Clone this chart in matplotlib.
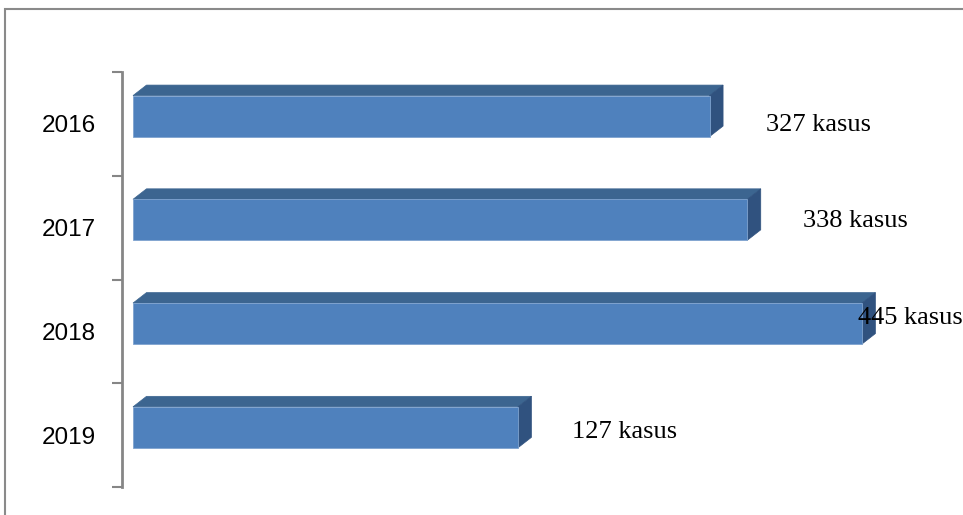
import matplotlib
matplotlib.use("Agg")
import matplotlib.pyplot as plt
from matplotlib.patches import Polygon, Rectangle

# ---- data ----
years = ["2016", "2017", "2018", "2019"]
bar_values = [352, 375, 445, 235]          # bar lengths as drawn in the picture
value_labels = ["327 kasus", "338 kasus", "445 kasus", "127 kasus"]

# ---- layout (style, not data) ----
W, H = 963, 515
fig = plt.figure(figsize=(W / 100, H / 100), dpi=100)
ax = fig.add_axes([122 / W, 1 - 487 / H, (W - 122) / W, 415 / H])

px_per_unit = 1.638
x_left = -11 / px_per_unit
x_right = (W - 133) / px_per_unit
ax.set_xlim(x_left, x_right)
ax.set_ylim(3.5, -0.5)  # inverted: first category at top

cat_px = 103.75
bar_h = 41 / cat_px
bar_off = -7.8 / cat_px
dx = 13.5 / px_per_unit
dy = 10.5 / cat_px

front_c = "#4F81BD"
top_c = "#3C6590"
side_c = "#30527F"

ys = list(range(len(years)))
for y, v in zip(ys, bar_values):
    yc = y + bar_off
    ytop = yc - bar_h / 2
    ybot = yc + bar_h / 2
    ax.barh(yc, v, height=bar_h, left=0, color=front_c, edgecolor="#7FA3CF",
            linewidth=0.6, zorder=3)
    ax.add_patch(Polygon([(0, ytop), (v, ytop), (v + dx, ytop - dy), (dx, ytop - dy)],
                         closed=True, facecolor=top_c, edgecolor=top_c, lw=0.5, zorder=2))
    ax.add_patch(Polygon([(v, ytop), (v + dx, ytop - dy), (v + dx, ybot - dy), (v, ybot)],
                         closed=True, facecolor=side_c, edgecolor=side_c, lw=0.5, zorder=2))

# value labels
label_x_px = [766, 803, 858, 572]
label_base_off = [7, -1, -7, 3]
for y, lab, lx, off in zip(ys, value_labels, label_x_px, label_base_off):
    ax.text((lx - 133) / px_per_unit, y + off / cat_px, lab, ha="left", va="baseline",
            fontsize=19, family="Liberation Serif", color="black", zorder=5, clip_on=False)

# axes styling
for s in ["top", "right", "bottom"]:
    ax.spines[s].set_visible(False)
ax.spines["left"].set_color("#868686")
ax.spines["left"].set_linewidth(2)
ax.set_xticks([])
ax.set_yticks([-0.5, 0.5, 1.5, 2.5, 3.5])
ax.set_yticklabels([])
ax.tick_params(axis="y", length=7, width=1.5, color="#868686", direction="out")
ax.set_yticks(ys, minor=True)
ax.set_yticklabels(years, minor=True, fontsize=17.5, family="Liberation Sans")
ax.tick_params(axis="y", which="minor", length=0, pad=18.7)
ax.patch.set_alpha(0)

# outer frame of the chart area
fig.patches.append(Rectangle((5 / W, -0.05), 1.2, 1 - 9 / H + 0.05, transform=fig.transFigure,
                             fill=False, edgecolor="#8A8A8A", linewidth=1.5, clip_on=False))

fig.savefig("out.png", dpi=100)
